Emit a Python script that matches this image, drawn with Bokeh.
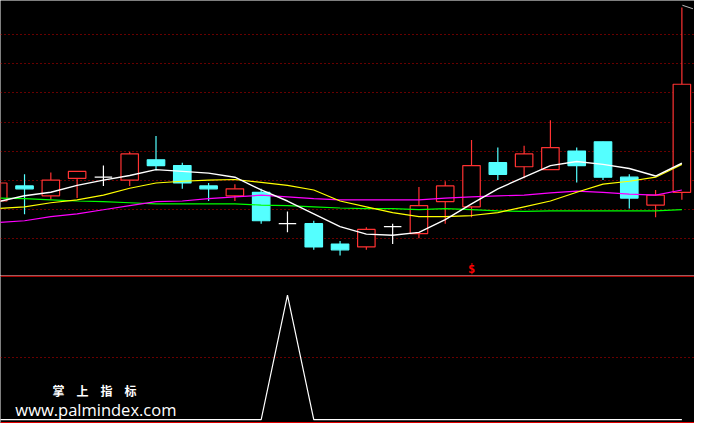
from bokeh.plotting import figure
from bokeh.layouts import column
from bokeh.models import Range1d, Span, Label, Grid, FixedTicker
from bokeh.embed import file_html
from bokeh.resources import INLINE
from bokeh.core.properties import value

# ---- data ----
day = list(range(27))
open_ = [6.64, 6.90, 6.73, 7.03, 7.05, 7.00, 7.35, 7.25, 6.90, 6.73,
         6.79, 6.25, 6.25, 5.90, 5.85, 6.20, 6.08, 6.63, 6.54, 7.30,
         7.23, 7.18, 7.50, 7.66, 7.05, 6.57, 6.79]
high = [6.96, 7.10, 7.13, 7.15, 7.25, 7.49, 7.76, 7.30, 6.95, 6.93,
        6.85, 6.46, 6.30, 5.95, 6.19, 6.25, 6.88, 6.98, 7.69, 7.56,
        7.59, 8.03, 7.56, 7.66, 7.10, 6.83, 9.97]
low = [6.63, 6.41, 6.66, 6.69, 6.90, 6.90, 7.17, 6.85, 6.64, 6.64,
       6.25, 6.10, 5.80, 5.70, 5.80, 5.90, 6.00, 6.25, 6.36, 7.00,
       7.03, 7.18, 6.96, 7.00, 6.51, 6.36, 6.66]
close = [6.95, 6.85, 7.00, 7.15, 7.05, 7.45, 7.25, 6.95, 6.85, 6.85,
         6.30, 6.25, 5.85, 5.80, 6.15, 6.20, 6.56, 6.90, 7.25, 7.10,
         7.45, 7.56, 7.25, 7.05, 6.69, 6.74, 8.65]
ma_white = [6.63, 6.73, 6.79, 6.91, 7.00, 7.08, 7.18, 7.15, 7.12, 7.05,
            6.83, 6.64, 6.42, 6.20, 6.07, 6.05, 6.10, 6.32, 6.59, 6.85,
            7.05, 7.25, 7.32, 7.27, 7.20, 7.07, 7.29]
ma_yellow = [6.51, 6.54, 6.61, 6.66, 6.74, 6.86, 6.95, 6.98, 7.00, 7.01,
             6.96, 6.91, 6.83, 6.64, 6.54, 6.44, 6.37, 6.37, 6.39, 6.44,
             6.54, 6.64, 6.79, 6.93, 6.98, 7.05, 7.27]
ma_magenta = [6.27, 6.30, 6.37, 6.42, 6.49, 6.56, 6.63, 6.64, 6.68, 6.71,
              6.74, 6.71, 6.68, 6.66, 6.66, 6.66, 6.66, 6.69, 6.71, 6.73,
              6.74, 6.78, 6.81, 6.79, 6.76, 6.74, 6.83]
ma_green = [6.69, 6.68, 6.66, 6.64, 6.63, 6.61, 6.59, 6.59, 6.59, 6.59,
            6.57, 6.56, 6.54, 6.52, 6.51, 6.51, 6.49, 6.51, 6.49, 6.47,
            6.46, 6.47, 6.47, 6.47, 6.47, 6.47, 6.49]
signal = [0, 0, 0, 0, 0, 0, 0, 0, 0, 0,
          0, 1, 0, 0, 0, 0, 0, 0, 0, 0,
          0, 0, 0, 0, 0, 0, 0]
price_levels = [6.0, 6.5, 7.0, 7.5, 8.0, 8.5, 9.0, 9.5]
signal_levels = [0.5]
mark_day = [18]
mark_text = ["$"]
watermark_cn = "掌\u3000上\u3000指\u3000标"
watermark_url = "www.palmindex.com"

RED = "#FF3232"
CYAN = "#54FFFF"
GRID = "#D00000"
BW = 0.665
LW = 1.2

up = [i for i in day if close[i] > open_[i]]
dn = [i for i in day if close[i] < open_[i]]
dj = [i for i in day if close[i] == open_[i]]
wick_col = [RED if close[i] > open_[i] else (CYAN if close[i] < open_[i] else "white") for i in day]

xr = Range1d(0.086, 26.48)

p = figure(width=694, height=275, x_range=xr, y_range=Range1d(5.3575, 10.092),
           output_backend="svg", toolbar_location=None,
           x_axis_location=None, y_axis_location=None,
           background_fill_color="black", border_fill_color="black",
           outline_line_color=None, min_border=0)
p.xgrid.visible = False
p.ygrid.visible = False
p.add_layout(Grid(dimension=1, ticker=FixedTicker(ticks=price_levels),
                  grid_line_color=GRID, grid_line_dash="1 3", grid_line_width=1.2))

p.segment(x0=day, y0=low, x1=day, y1=high, line_color=wick_col, line_width=LW)
p.vbar(x=up, width=BW, top=[close[i] for i in up], bottom=[open_[i] for i in up],
       fill_color="black", line_color=RED, line_width=LW)
p.vbar(x=dn, width=BW, top=[open_[i] for i in dn], bottom=[close[i] for i in dn],
       fill_color=CYAN, line_color=CYAN, line_width=LW)
p.segment(x0=[i - BW / 2 for i in dj], y0=[close[i] for i in dj],
          x1=[i + BW / 2 for i in dj], y1=[close[i] for i in dj],
          line_color="white", line_width=LW)

p.line(day, ma_green, line_color="#00FF00", line_width=LW)
p.line(day, ma_magenta, line_color="#FF00FF", line_width=LW)
p.line(day, ma_yellow, line_color="#FFFF00", line_width=LW)
p.line(day, ma_white, line_color="white", line_width=1.4)

# high-price marker stub
hi_i = max(day, key=lambda i: high[i])
p.segment(x0=[hi_i + 0.02], y0=[high[hi_i] + 0.04], x1=[hi_i + 0.42], y1=[high[hi_i] - 0.02],
          line_color="#BBBBBB", line_width=1)

p.text(x=mark_day, y=[5.467], text=mark_text, text_color="#FF0000",
       text_font=value("DejaVu Sans Mono"), text_font_size="12px", text_font_style="bold",
       text_align="center", text_baseline="middle")

b = figure(width=694, height=148, x_range=xr, y_range=Range1d(-0.0315, 1.1575),
           output_backend="svg", toolbar_location=None,
           x_axis_location=None, y_axis_location=None,
           background_fill_color="black", border_fill_color="black",
           outline_line_color=None, min_border=0)
b.xgrid.visible = False
b.ygrid.visible = False
b.add_layout(Grid(dimension=1, ticker=FixedTicker(ticks=signal_levels),
                  grid_line_color=GRID, grid_line_dash="1 3", grid_line_width=1.2))
b.add_layout(Span(location=1.152, dimension="width", line_color="#E00000", line_width=1.2))
b.add_layout(Span(location=-0.0236, dimension="width", line_color="#E00000", line_width=1.2))
b.line(day, signal, line_color="white", line_width=LW)

b.add_layout(Label(x=94, y=32.8, x_units="screen", y_units="screen", text=watermark_cn,
                   text_color="white", text_font="Noto Sans CJK SC",
                   text_font_size="12px", text_font_style="bold",
                   text_align="center", text_baseline="middle"))
b.add_layout(Label(x=95.4, y=13.7, x_units="screen", y_units="screen", text=watermark_url,
                   text_color="white", text_font="Open Sans",
                   text_font_size="16.5px",
                   text_align="center", text_baseline="alphabetic"))

layout = column(p, b, spacing=0)
open("out.html", "w").write(file_html(layout, INLINE))
